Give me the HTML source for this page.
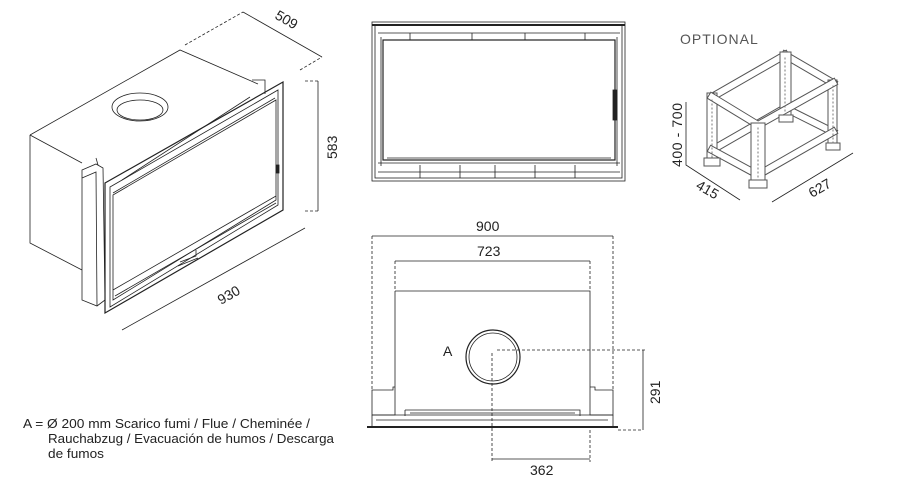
<!DOCTYPE html>
<html><head><meta charset="utf-8"><style>
html,body{margin:0;padding:0;background:#fff;width:900px;height:487px;overflow:hidden}
svg{display:block}
text{font-family:"Liberation Sans",sans-serif;fill:#222}
</style></head><body>
<svg width="900" height="487" viewBox="0 0 900 487" xmlns="http://www.w3.org/2000/svg">
<g fill="none" stroke="#222" stroke-width="0.8">
<!-- ISO fireplace -->
<path d="M30,135 L180,50 L258,84"/>
<path d="M30,135 L30,243 L82,270"/>
<path d="M30,135 L82,163 M96,158 L100,172"/>
<polygon points="82,170 96,164 103,168 105,300 97,306 82,300" fill="#fff"/>
<path d="M82,178 L96,172 L97,306"/>
<polygon points="105,183 283,82 283,210 105,313" fill="#fff" stroke-width="1.2"/>
<polygon points="110,187 278,90 278,205 110,307"/>
<polygon points="113,195 276,100 276,200 113,300"/>
<path d="M113,193 L275,98 M113,290 L276,196 M115,296 L276,203"/>
<path d="M122,180 L250,97 M252,80 L265,80 L265,94"/>
<path d="M180,262 L196,256 L196,250 M178,266 L198,258"/>
<ellipse cx="140" cy="107" rx="28" ry="14" fill="#fff"/>
<ellipse cx="140" cy="110" rx="23" ry="10"/>
<rect x="276" y="165" width="3" height="8" fill="#222"/>
<!-- 509 -->
<path d="M185,45 L243,12" stroke-dasharray="3,2"/>
<path d="M243,12 L322,57"/>
<path d="M300,70 L322,57" stroke-dasharray="3,2"/>
<!-- 583 -->
<path d="M318,81 L318,211"/>
<path d="M305,81 L320,81 M305,211 L320,211" stroke-dasharray="3,2"/>
<!-- 930 -->
<path d="M122,330 L305,228"/>

<!-- Front view -->
<rect x="372" y="22" width="253" height="159"/>
<rect x="375" y="25" width="247" height="153"/>
<path d="M372,25 L625,25" stroke-width="2"/>
<rect x="383" y="40" width="232" height="120" stroke-width="1.2"/>
<path d="M378,33 L620,33 M378,163 L620,163 M378,172 L620,172 M381,37 L381,166 M617,37 L617,166 M387,158 L611,158"/>
<path d="M410,33 L410,40 M472,33 L472,40 M525,33 L525,40 M585,33 L585,40 M420,165 L420,178 M460,165 L460,178 M495,165 L495,178 M535,165 L535,178 M575,165 L575,178"/>
<rect x="613" y="90" width="4" height="30" fill="#222"/>
<!-- Plan view -->
<path d="M372,236 L613,236 M395,261 L590,261"/>
<path d="M372,236 L372,390 M613,236 L613,390 M395,261 L395,291 M590,261 L590,291" stroke-dasharray="3,2"/>
<path d="M395,291 L590,291 L590,387 L595,387 L595,390 L613,390 L613,415 L590,415 L590,387 M395,291 L395,387 L393,387 L393,390 L372,390 L372,415 L395,415 L395,387"/>
<path d="M367,427 L618,427" stroke-width="2"/>
<path d="M372,415 L372,427 M613,415 L613,427 M372,415 L613,415 M376,420 L608,420 M405,410 L580,410 L580,416 M405,410 L405,416 M410,413 L575,413"/>
<circle cx="493" cy="357" r="27" stroke-width="1.2" fill="#fff"/>
<circle cx="493" cy="357" r="24"/>
<path d="M497,350 L645,350 M492,353 L492,462 M590,430 L590,462 M618,430 L643,430" stroke-dasharray="3,2"/>
<path d="M643,350 L643,430 M492,459 L590,459"/>
<path d="M686,102 L686,165 L740,200 M772,202 L853,153"/>
</g>

<!-- Stand -->
<g fill="none" stroke-linecap="square">
<g stroke="#555" stroke-width="8">
<path d="M785,108 L833,132 M785,108 L712,150 M785,55 L833,83 M785,55 L712,97"/>
</g>
<g stroke="#fff" stroke-width="6">
<path d="M785,108 L833,132 M785,108 L712,150 M785,55 L833,83 M785,55 L712,97"/>
</g>
<g fill="#fff" stroke="#555" stroke-width="1">
<rect x="780" y="52" width="11" height="70"/>
<rect x="828" y="80" width="9" height="68"/>
<rect x="707" y="93" width="10" height="70"/>
</g>
<g stroke="#555" stroke-width="8">
<path d="M712,97 L758,125 L833,83 M712,150 L758,175 L833,132"/>
</g>
<g stroke="#fff" stroke-width="6">
<path d="M712,97 L758,125 L833,83 M712,150 L758,175 L833,132"/>
</g>
<g fill="#fff" stroke="#555" stroke-width="1">
<rect x="751" y="123" width="14" height="60"/>
<rect x="749" y="180" width="18" height="8"/>
<rect x="704" y="158" width="16" height="8"/>
<rect x="826" y="143" width="14" height="7"/>
<rect x="779" y="115" width="14" height="7"/>
</g>
<g stroke="#777" stroke-width="1" stroke-dasharray="1,3">
<path d="M712,100 L712,160 M758,128 L758,180 M833,86 L833,146 M785,58 L785,118"/>
</g>
</g>

<g font-size="14">
<text transform="translate(274,18) rotate(30)">509</text>
<text transform="translate(337,159) rotate(-90)">583</text>
<text transform="translate(221,305) rotate(-30)">930</text>
<text x="476" y="231">900</text>
<text x="477" y="256">723</text>
<text x="443" y="356">A</text>
<text transform="translate(660,404) rotate(-90)">291</text>
<text x="530" y="475">362</text>
<text x="680" y="44" font-size="14" letter-spacing="1" style="fill:#555">OPTIONAL</text>
<text transform="translate(682,167) rotate(-90)" textLength="64">400 - 700</text>
<text transform="translate(695,188) rotate(30)">415</text>
<text transform="translate(812,198) rotate(-30)">627</text>
</g>
<g font-size="12.5">
<text x="23" y="428" textLength="287" lengthAdjust="spacingAndGlyphs">A = Ø 200 mm  Scarico fumi / Flue / Cheminée /</text>
<text x="48" y="443" textLength="286" lengthAdjust="spacingAndGlyphs">Rauchabzug / Evacuación de humos / Descarga</text>
<text x="48" y="458" textLength="56" lengthAdjust="spacingAndGlyphs">de fumos</text>
</g>
</svg>
</body></html>
